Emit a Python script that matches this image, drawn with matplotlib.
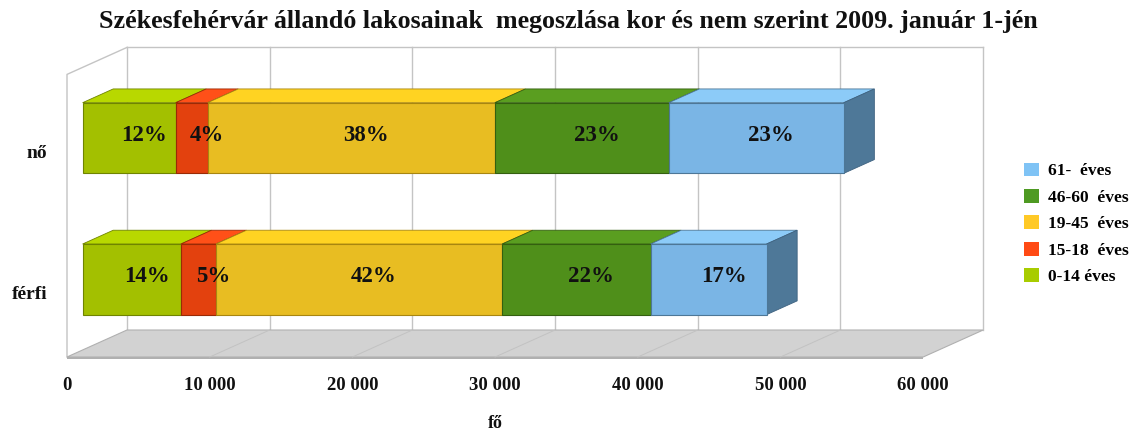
import numpy as np
import matplotlib
matplotlib.use("Agg")
import matplotlib.pyplot as plt
from matplotlib.patches import Polygon, Patch

# data
categories = ['férfi', 'nő']
groups = ['0-14 éves', '15-18  éves', '19-45  éves', '46-60  éves', '61-  éves']
ferfi = [6890, 2450, 20060, 10400, 8130]
no = [6520, 2240, 20130, 12190, 12260]
ticks = [0, 10000, 20000, 30000, 40000, 50000, 60000]
tick_labels = ['0', '10 000', '20 000', '30 000', '40 000', '50 000', '60 000']

front_cols = ['#a3c000', '#e3410e', '#e8bd22', '#4f8f1a', '#7ab5e5']
top_cols = ['#b8d800', '#ff5018', '#ffd322', '#5a9e20', '#8ccbf8']
edge_cols = ['#6f8400', '#9a2a05', '#a88610', '#345f10', '#4d7797']
side_col = '#4e7898'
legend_cols = ['#a8cc00', '#ff4a14', '#ffc926', '#4e9a22', '#7fc3f5']

serif = 'Liberation Serif'

fig = plt.figure(figsize=(11.37, 4.32), dpi=100)
ax = fig.add_axes([0, 0, 1, 1])
ax.axis('off')

# pixel mapping of the 3d box
pxx = 142.7 / 10000.0
pxy = 141.3
ax.set_xlim(-67 / pxx, (1137 - 67) / pxx)
ax.set_ylim(-(432 - 357) / pxy, 357 / pxy)

DX = 60 / pxx
DY = 27 / pxy
xmax = 60000
ytop = 2.0


def P(x, y, d):
    return (x + d * DX, y + d * DY)


wall = '#c4c4c4'
# back wall grid lines
for t in ticks:
    ax.plot(*zip(P(t, 0, 1), P(t, ytop, 1)), color=wall, lw=1.0, zorder=1)
ax.plot(*zip(P(0, ytop, 1), P(xmax, ytop, 1)), color=wall, lw=1.0, zorder=1)
# left wall
ax.plot(*zip(P(0, 0, 0), P(0, ytop, 0), P(0, ytop, 1)), color=wall, lw=1.0, zorder=1)

# floor
floor = Polygon([P(0, 0, 0), P(xmax, 0, 0), P(xmax, 0, 1), P(0, 0, 1)],
                closed=True, facecolor='#d2d2d2', edgecolor='#b0b0b0', lw=0.8, zorder=2)
ax.add_patch(floor)
ax.add_patch(Polygon([P(0, 0, 0), P(xmax, 0, 0), P(xmax, -0.015, 0), P(0, -0.015, 0)],
                     closed=True, facecolor='#b0b0b0', edgecolor='none', zorder=2))
for t in ticks[1:-1]:
    ax.plot(*zip(P(t, 0, 0), P(t, 0, 1)), color='#c2c2c2', lw=0.7, zorder=2)

# bars
d0, d1 = 0.26, 0.77
h = 0.25
ypos = [0.5, 1.5]
for yc, vals in zip(ypos, [ferfi, no]):
    total = sum(vals)
    left = 0
    for i, v in enumerate(vals):
        r = left + v
        yb, yt = yc - h, yc + h
        ax.add_patch(Polygon([P(left, yb, d0), P(r, yb, d0), P(r, yt, d0), P(left, yt, d0)],
                             closed=True, facecolor=front_cols[i], edgecolor=edge_cols[i],
                             lw=0.8, zorder=4))
        ax.add_patch(Polygon([P(left, yt, d0), P(r, yt, d0), P(r, yt, d1), P(left, yt, d1)],
                             closed=True, facecolor=top_cols[i], edgecolor=edge_cols[i],
                             lw=0.6, zorder=3))
        if i == len(vals) - 1:
            ax.add_patch(Polygon([P(r, yb, d0), P(r, yb, d1), P(r, yt, d1), P(r, yt, d0)],
                                 closed=True, facecolor=side_col, edgecolor='#3e6280',
                                 lw=0.6, zorder=3))
        pct = '%d%%' % round(100.0 * v / total)
        tx, ty = P((left + r) / 2.0 + 0.25 * DX, yc, d0)
        ax.text(tx, ty + 0.02, pct, ha='center', va='center', fontsize=16.5,
                fontweight='bold', family=serif, color='#111111', zorder=6)
        left = r

# category labels
for yc, c in zip(ypos, categories):
    ax.text(-1400, yc - 0.06, c, ha='right', va='center', fontsize=14,
            fontweight='bold', family=serif, color='#111111')

# tick labels
for t, lab in zip(ticks, tick_labels):
    ax.text(t, -0.2, lab, ha='center', va='center', fontsize=13.5,
            fontweight='bold', family=serif, color='#111111')
ax.text(30000, -0.47, 'fő', ha='center', va='center', fontsize=13,
        fontweight='bold', family=serif, color='#111111')

fig.text(0.5, 0.951, 'Székesfehérvár állandó lakosainak  megoszlása kor és nem szerint 2009. január 1-jén',
         ha='center', va='center', fontsize=18.7, fontweight='bold', family=serif, color='#111111')

handles = [Patch(facecolor=legend_cols[i], edgecolor='none', label=groups[i]) for i in range(5)][::-1]
fig.legend(handles=handles, loc='upper left', bbox_to_anchor=(0.887, 0.66), frameon=False,
           prop={'family': serif, 'weight': 'bold', 'size': 12.5}, handlelength=0.85,
           handleheight=0.85, handletextpad=0.5, labelspacing=0.55)

fig.savefig('out.png', dpi=100)
